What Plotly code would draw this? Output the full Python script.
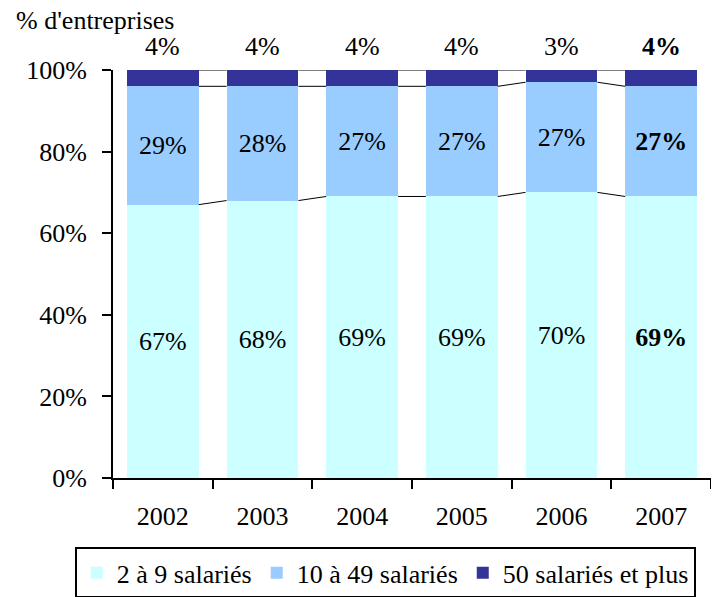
import plotly.graph_objects as go

years = ["2002", "2003", "2004", "2005", "2006", "2007"]
small = [67, 68, 69, 69, 70, 69]      # 2 à 9 salariés
medium = [29, 28, 27, 27, 27, 27]     # 10 à 49 salariés
large = [4, 4, 4, 4, 3, 4]            # 50 salariés et plus
series_names = ["2 à 9 salariés", "10 à 49 salariés", "50 salariés et plus"]
colors = ["#CCFFFF", "#99CCFF", "#333399"]
y_ticks = [0, 20, 40, 60, 80, 100]
y_tick_labels = [f"{t}%" for t in y_ticks]

FONT = "Liberation Serif"
FS = 26
BARGAP = 0.278


def fmt(v, i):
    s = f"{v}%"
    return f"<b>{s}</b>" if i == len(years) - 1 else s


fig = go.Figure()
series = [small, medium, large]
for k, (vals, name, col) in enumerate(zip(series, series_names, colors)):
    txt = [fmt(v, i) for i, v in enumerate(vals)] if k < 2 else None
    fig.add_trace(go.Bar(
        x=years, y=vals, name=name, marker=dict(color=col, line=dict(width=0)),
        text=txt, textposition="inside" if k < 2 else "none",
        insidetextanchor="middle", constraintext="none", textangle=0,
        insidetextfont=dict(family=FONT, size=FS, color="black"),
        showlegend=True, hoverinfo="skip",
    ))

# series lines joining the tops of each segment between neighbouring bars
cums = []
acc = [0] * len(years)
for vals in series:
    acc = [a + v for a, v in zip(acc, vals)]
    cums.append(acc)
half = (1 - BARGAP) / 2
shapes = []
for c in cums:
    for i in range(len(years) - 1):
        shapes.append(dict(type="line", xref="x", yref="y",
                           x0=i + half, x1=i + 1 - half, y0=c[i], y1=c[i + 1],
                           line=dict(color="black", width=1)))

annotations = []
for i, v in enumerate(large):
    annotations.append(dict(x=i, y=100, xref="x", yref="y", text=fmt(v, i),
                            showarrow=False, yanchor="middle", yshift=24,
                            font=dict(family=FONT, size=FS, color="black")))
annotations.append(dict(x=-0.1656, y=1.128, xref="paper", yref="paper",
                        text="% d'entreprises", showarrow=False, yshift=-3,
                        xanchor="left", yanchor="middle",
                        font=dict(family=FONT, size=FS, color="black")))

fig.update_layout(
    width=711, height=589,
    margin=dict(l=105, r=8, t=62, b=119, pad=0, autoexpand=False),
    barmode="stack", bargap=BARGAP,
    paper_bgcolor="white", plot_bgcolor="white",
    font=dict(family=FONT, size=FS, color="black"),
    shapes=shapes, annotations=annotations,
    legend=dict(orientation="h", x=-0.064, xanchor="left", y=-0.170, yanchor="top",
                traceorder="normal",
                bordercolor="black", borderwidth=2, bgcolor="white",
                font=dict(family=FONT, size=FS, color="black"),
                itemclick=False, itemdoubleclick=False),
    xaxis=dict(type="category", categoryorder="array", categoryarray=years,
               tickson="boundaries", ticks="outside", ticklen=9,
               tickwidth=2, tickcolor="black", showline=True, linecolor="black",
               linewidth=2, showgrid=False, zeroline=False, ticklabelstandoff=14,
               automargin=False,
               tickfont=dict(family=FONT, size=FS, color="black")),
    yaxis=dict(range=[0, 100], tickmode="array", tickvals=y_ticks,
               ticktext=y_tick_labels, ticks="outside",
               ticklen=9, tickwidth=2, tickcolor="black", showline=True,
               linecolor="black", linewidth=2, showgrid=False, zeroline=False,
               ticklabelstandoff=10, automargin=False,
               tickfont=dict(family=FONT, size=FS, color="black")),
)

fig.write_html("out.html")
